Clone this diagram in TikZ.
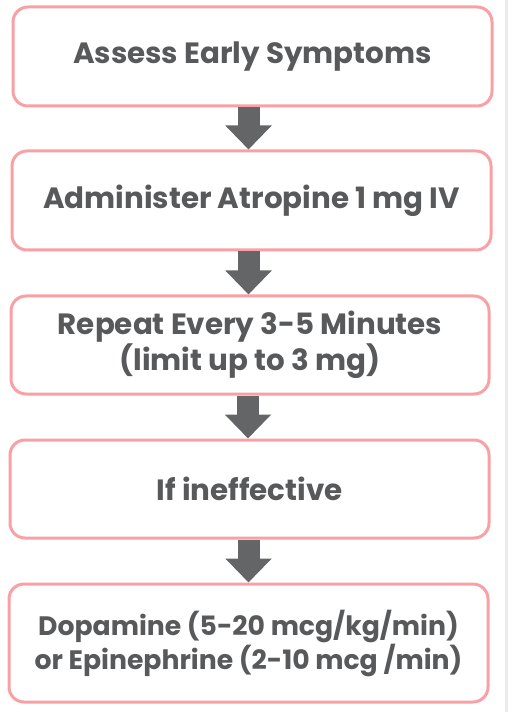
\documentclass[tikz,border=0pt]{standalone}
\usepackage{fontspec}
\setmainfont{Poppins}[BoldFont={* Bold}]
\usetikzlibrary{arrows.meta}

\definecolor{boxpink}{HTML}{F9A0A5}
\definecolor{textgray}{HTML}{58595B}
\definecolor{arrowgray}{HTML}{646566}
\definecolor{edgegray}{HTML}{EBEBEB}

\begin{document}
\begin{tikzpicture}[x = 0.75pt, y = -0.75pt]

	% Definitions

	\def\u{0.75pt}		% one pixel of the reference
	\tikzset{
		stepbox/.style = {draw = boxpink, line width = 3*\u, fill = white,
			rounded corners = 15*\u, inner sep = 0pt, align = center,
			text = textgray, font = \bfseries\fontsize{22}{21}\selectfont},
		blockarrow/.style = {draw = arrowgray, line width = 22*\u,
			-{Triangle[width = 45*\u, length = 24*\u]}}
	}

	\useasboundingbox (0, 0) rectangle (511, 712);

	% Right edge of the page

	\draw [edgegray, line width = 3*\u] (506.5, 0) -- (506.5, 712);

	% Boxes

	\node [stepbox, minimum width = 479*\u, minimum height = 99*\u] (assess)
		at (252.5, 56.5) {Assess Early Symptoms};
	\node [stepbox, minimum width = 479*\u, minimum height = 99*\u] (atropine)
		at (251.5, 200.5) {Administer Atropine 1 mg IV};
	\node [stepbox, minimum width = 478*\u, minimum height = 98*\u] (repeat)
		at (250, 345) {Repeat Every 3-5 Minutes\\(limit up to 3 mg)};
	\node [stepbox, minimum width = 479*\u, minimum height = 98*\u] (ineffective)
		at (249.5, 489) {If ineffective};
	\node [stepbox, minimum width = 479*\u, minimum height = 118*\u,
		font = \bfseries\fontsize{20}{21.5}\selectfont] (pressors)
		at (248.5, 643) {Dopamine (5-20 mcg/kg/min)\\or Epinephrine (2-10 mcg /min)};

	% Arrows

	\draw [blockarrow] ([xshift = -4*\u] assess.south) -- ([xshift = -4*\u] assess.south |- atropine.north);
	\draw [blockarrow] ([xshift = -3*\u] atropine.south) -- ([xshift = -3*\u] atropine.south |- repeat.north);
	\draw [blockarrow] ([xshift = -2*\u] repeat.south) -- ([xshift = -2*\u] repeat.south |- ineffective.north);
	\draw [blockarrow] ([xshift = -1*\u] ineffective.south) -- ([xshift = -1*\u] ineffective.south |- pressors.north);

\end{tikzpicture}
\end{document}
